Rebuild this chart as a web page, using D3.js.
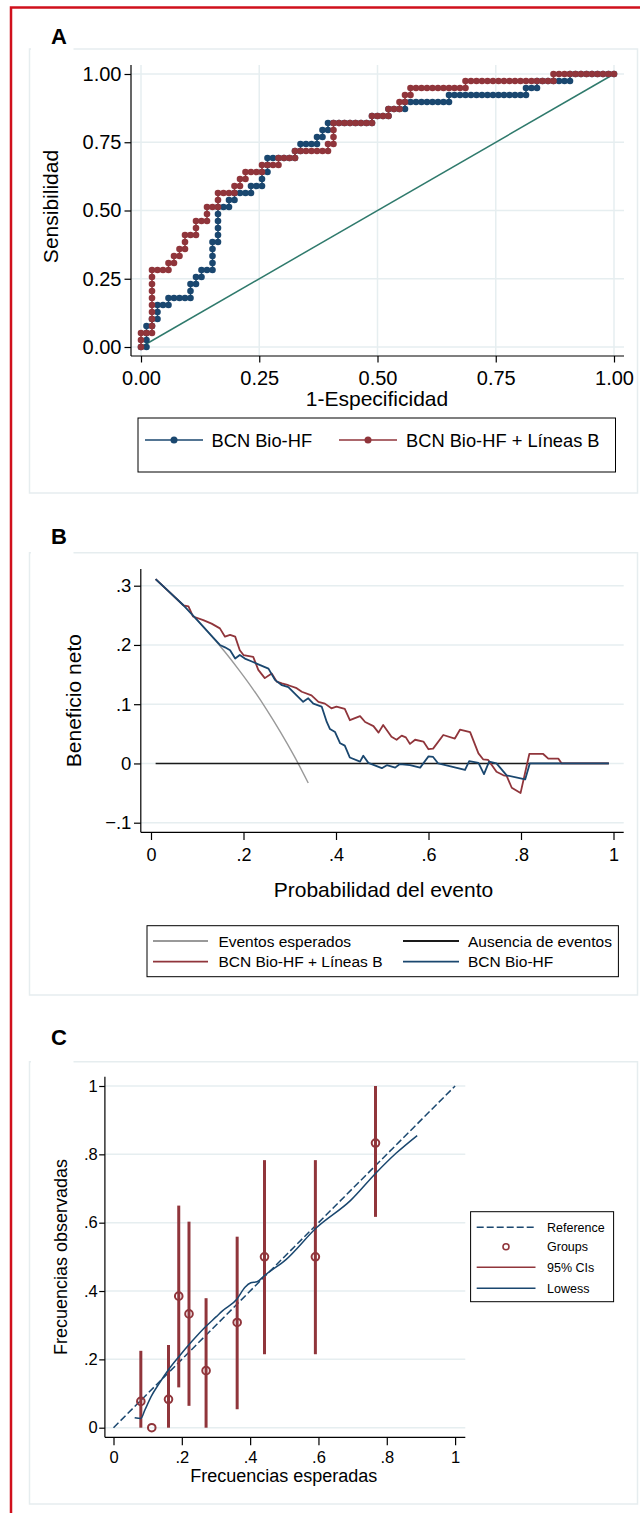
<!DOCTYPE html>
<html>
<head>
<meta charset="utf-8">
<script src="https://cdn.jsdelivr.net/npm/d3@7"></script>
<style>
  body { margin: 0; background: #fff; }
  svg { display: block; }
  text { font-family: "Liberation Sans", Arial, Helvetica, sans-serif; fill: #000; }
</style>
</head>
<body>
<svg id="fig" width="640" height="1515"></svg>
<script>
// ---------- Panel A: ROC curves ----------
// Each run: "u" = events (sensitivity step), "r" = non-events (1-specificity step)
const rocEvents = 39;
const rocNonEvents = 86;
const rocBlueRuns = ["r1","u3","r1","u1","r1","u2","r2","u1","r4","u2","r1","u1","r1","u1","r2","u4",
  "r1","u5","r2","u1","r1","u1","r3","u1","r2","u2","r1","u2","r5","u1","r1","u1","r3","u1","r1","u1",
  "r1","u1","r8","u1","r3","u1","r3","u1","r8","u1","r14","u1","r2","u1","r6","u1","r8"];
const rocRedRuns = ["u2","r2","u9","r3","u1","r1","u1","r1","u1","r1","u2","r2","u2","r2","u2","r2",
  "u2","r3","u1","r1","u1","r1","u1","r3","u1","r3","u1","r3","u1","r6","u1","r1","u3","r7","u1","r3",
  "u1","r2","u1","r1","u1","r1","u1","r10","u1","r16","u1","r11"];
const rocTicks = [0, 0.25, 0.5, 0.75, 1];
const rocLegend = ["BCN Bio-HF", "BCN Bio-HF + Líneas B"];

// ---------- Panel B: decision curves ----------
const nbAllX = [0.01,0.04,0.07,0.10,0.13,0.16,0.19,0.22,0.25,0.28,0.31,0.34];
const nbAllY = [0.311,0.289,0.267,0.242,0.216,0.188,0.158,0.126,0.091,0.053,0.012,-0.033];
const nbNoneX = [0.01, 0.99];
const nbNoneY = [0, 0];
const nbRedX = [0.01,0.04,0.07,0.081,0.091,0.113,0.131,0.149,0.16,0.171,0.182,0.192,0.2,0.221,0.232,
  0.246,0.261,0.272,0.283,0.297,0.315,0.326,0.347,0.362,0.376,0.39,0.401,0.419,0.43,0.452,0.463,0.481,
  0.492,0.502,0.52,0.531,0.542,0.551,0.56,0.571,0.589,0.6,0.61,0.632,0.657,0.668,0.69,0.708,0.718,0.729,
  0.747,0.762,0.769,0.78,0.799,0.818,0.848,0.859,0.881,0.888,0.99];
const nbRedY = [0.311,0.289,0.267,0.265,0.248,0.242,0.236,0.228,0.214,0.217,0.214,0.191,0.183,0.18,0.158,
  0.144,0.152,0.138,0.135,0.132,0.127,0.121,0.115,0.104,0.101,0.093,0.096,0.092,0.073,0.08,0.07,0.063,
  0.052,0.065,0.045,0.04,0.047,0.044,0.033,0.04,0.037,0.024,0.025,0.048,0.042,0.057,0.053,0.017,0.007,0.006,
  -0.014,-0.02,-0.021,-0.041,-0.05,0.016,0.016,0.008,0.008,0,0];
const nbBlueX = [0.01,0.04,0.07,0.10,0.13,0.149,0.16,0.171,0.182,0.192,0.203,0.218,0.236,0.254,0.268,0.283,
  0.297,0.311,0.329,0.34,0.351,0.369,0.38,0.387,0.398,0.409,0.419,0.43,0.452,0.459,0.47,0.499,0.51,0.528,
  0.538,0.56,0.582,0.6,0.61,0.621,0.679,0.688,0.708,0.72,0.731,0.747,0.769,0.809,0.819,0.99];
const nbBlueY = [0.311,0.289,0.267,0.242,0.216,0.2,0.196,0.191,0.177,0.183,0.177,0.172,0.166,0.16,0.141,0.132,
  0.129,0.118,0.104,0.11,0.101,0.096,0.07,0.058,0.053,0.034,0.03,0.01,0.003,0.013,0.001,-0.008,-0.003,-0.007,
  -0.001,-0.003,-0.007,0.012,0.011,0,-0.011,0.004,0.001,-0.018,0.003,0,-0.02,-0.027,0,0];
const nbXTicks = [0, 0.2, 0.4, 0.6, 0.8, 1];
const nbYTicks = [-0.1, 0, 0.1, 0.2, 0.3];
const nbLegend = ["Eventos esperados", "Ausencia de eventos", "BCN Bio-HF + Líneas B", "BCN Bio-HF"];

// ---------- Panel C: calibration ----------
const calExpected = [0.08, 0.112, 0.161, 0.191, 0.221, 0.271, 0.362, 0.442, 0.591, 0.767];
const calObserved = [0.077, 0, 0.083, 0.385, 0.333, 0.167, 0.308, 0.5, 0.5, 0.833];
const calLow  = [0, 0, 0, 0.118, 0.064, 0, 0.054, 0.215, 0.215, 0.617];
const calHigh = [0.225, 0, 0.242, 0.65, 0.603, 0.379, 0.559, 0.783, 0.783, 1.0];
const lowessX = [0.062,0.08,0.092,0.11,0.134,0.164,0.193,0.229,0.265,0.301,0.319,0.361,0.385,0.402,0.42,
  0.444,0.504,0.594,0.695,0.767,0.827,0.889];
const lowessY = [0.029,0.027,0.052,0.091,0.13,0.174,0.21,0.252,0.291,0.325,0.342,0.376,0.411,0.424,0.427,
  0.447,0.491,0.585,0.666,0.744,0.803,0.855];
const calTicks = [0, 0.2, 0.4, 0.6, 0.8, 1];
const calLegend = ["Reference", "Groups", "95% CIs", "Lowess"];

// ---------- styling ----------
const NAVY = "#1a476f", MAROON = "#90353b", GRID = "#e6eef0", FRAME = "#e6edef";
const fmtTick = v => (v === 0 ? "0" : v === 1 ? "1" : d3.format(".1f")(v).replace("0.", "."));

const svg = d3.select("#fig");

// outer red frame
svg.append("path")
  .attr("d", "M11,1513V7.5H640")
  .attr("fill", "none").attr("stroke", "#d0101c").attr("stroke-width", 2.5);

function panelFrame(top, bottom, letter, baseline) {
  svg.append("path")
    .attr("d", `M73.5,${top}H637.5V${bottom}H29.5V${top}H31`)
    .attr("fill", "none").attr("stroke", FRAME).attr("stroke-width", 1.5);
  svg.append("text").attr("x", 51).attr("y", baseline)
    .attr("font-size", 22).attr("font-weight", "bold").text(letter);
}

function styleAxis(g, fs) {
  g.select(".domain").remove();
  g.selectAll(".tick line").attr("stroke", "#000").attr("stroke-width", 1.2);
  g.selectAll(".tick text").attr("font-size", fs).attr("fill", "#000")
    .attr("font-family", "Liberation Sans, Arial, sans-serif");
}

// ================= Panel A =================
panelFrame(49, 493, "A", 44);
{
  const x = d3.scaleLinear().domain([0, 1]).range([141, 614]);
  const y = d3.scaleLinear().domain([0, 1]).range([347, 74]);
  const L = 131, R = 624, T = 65, B = 356;
  const g = svg.append("g");

  g.selectAll(".hg").data(rocTicks).join("line")
    .attr("x1", L).attr("x2", R).attr("y1", d => y(d)).attr("y2", d => y(d))
    .attr("stroke", GRID).attr("stroke-width", 1.5);
  g.selectAll(".vg").data(rocTicks).join("line").attr("class", "vg")
    .attr("y1", T).attr("y2", B).attr("x1", d => x(d)).attr("x2", d => x(d))
    .attr("stroke", GRID).attr("stroke-width", 1.5);

  // chance line
  g.append("line").attr("x1", x(0)).attr("y1", y(0)).attr("x2", x(1)).attr("y2", y(1))
    .attr("stroke", "#2f7a6c").attr("stroke-width", 1.5);

  function rocPoints(runs) {
    let fp = 0, tp = 0;
    const pts = [[0, 0]];
    runs.forEach(tok => {
      const n = +tok.slice(1);
      for (let k = 0; k < n; k++) {
        if (tok[0] === "u") tp++; else fp++;
        pts.push([fp / rocNonEvents, tp / rocEvents]);
      }
    });
    return pts;
  }
  const line = d3.line().x(d => x(d[0])).y(d => y(d[1]));
  [[rocBlueRuns, NAVY], [rocRedRuns, MAROON]].forEach(([runs, col]) => {
    const pts = rocPoints(runs);
    g.append("path").attr("d", line(pts)).attr("fill", "none")
      .attr("stroke", col).attr("stroke-width", 1.5);
    g.append("g").selectAll("circle").data(pts).join("circle")
      .attr("cx", d => x(d[0])).attr("cy", d => y(d[1])).attr("r", 3.3).attr("fill", col);
  });

  // axis lines
  g.append("line").attr("x1", L).attr("x2", L).attr("y1", T).attr("y2", B).attr("stroke", "#000").attr("stroke-width", 1.2);
  g.append("line").attr("x1", L).attr("x2", R).attr("y1", B).attr("y2", B).attr("stroke", "#000").attr("stroke-width", 1.2);

  const ax = g.append("g").attr("transform", `translate(0,${B})`)
    .call(d3.axisBottom(x).tickValues(rocTicks).tickFormat(d3.format(".2f")).tickSize(6.5).tickPadding(8));
  styleAxis(ax, 20);
  const ay = g.append("g").attr("transform", `translate(${L},0)`)
    .call(d3.axisLeft(y).tickValues(rocTicks).tickFormat(d3.format(".2f")).tickSize(6.5).tickPadding(3));
  styleAxis(ay, 20);

  g.append("text").attr("x", 377).attr("y", 406).attr("text-anchor", "middle")
    .attr("font-size", 21).text("1-Especificidad");
  g.append("text").attr("transform", `translate(58,${(T + B) / 2 - 4}) rotate(-90)`)
    .attr("text-anchor", "middle").attr("font-size", 21).text("Sensibilidad");

  // legend
  const lg = g.append("g");
  lg.append("rect").attr("x", 138).attr("y", 418).attr("width", 477.5).attr("height", 54)
    .attr("fill", "#fff").attr("stroke", "#000").attr("stroke-width", 1);
  [[145, 203, 211.5, NAVY], [339, 397, 406, MAROON]].forEach(([x1, x2, tx, col], i) => {
    lg.append("line").attr("x1", x1).attr("x2", x2).attr("y1", 440).attr("y2", 440)
      .attr("stroke", col).attr("stroke-width", 1.5);
    lg.append("circle").attr("cx", (x1 + x2) / 2).attr("cy", 440).attr("r", 3.5).attr("fill", col);
    lg.append("text").attr("x", tx).attr("y", 446.5).attr("font-size", 18.3).text(rocLegend[i]);
  });
}

// ================= Panel B =================
panelFrame(552.7, 995, "B", 544);
{
  const x = d3.scaleLinear().domain([0, 1]).range([151, 613.5]);
  const y = d3.scaleLinear().domain([-0.1, 0.3]).range([822.7, 585.7]);
  const L = 140.8, R = 623.7, T = 569, B = 832.3;
  const g = svg.append("g");

  g.selectAll(".hg").data(nbYTicks).join("line")
    .attr("x1", L).attr("x2", R).attr("y1", d => y(d)).attr("y2", d => y(d))
    .attr("stroke", GRID).attr("stroke-width", 1.5);

  const line = d3.line().x(d => x(d[0])).y(d => y(d[1]));
  const series = [
    [nbAllX, nbAllY, "#999999", 1.4, d3.curveMonotoneX],
    [nbNoneX, nbNoneY, "#1a1a1a", 1.6, d3.curveLinear],
    [nbRedX, nbRedY, MAROON, 1.8, d3.curveLinear],
    [nbBlueX, nbBlueY, NAVY, 1.8, d3.curveLinear]
  ];
  series.forEach(([xs, ys, col, w, curve]) => {
    g.append("path").attr("d", line.curve(curve)(xs.map((v, i) => [v, ys[i]])))
      .attr("fill", "none").attr("stroke", col).attr("stroke-width", w).attr("stroke-linejoin", "round");
  });

  g.append("line").attr("x1", L).attr("x2", L).attr("y1", T).attr("y2", B).attr("stroke", "#000").attr("stroke-width", 1.2);
  g.append("line").attr("x1", L).attr("x2", R).attr("y1", B).attr("y2", B).attr("stroke", "#000").attr("stroke-width", 1.2);

  const ax = g.append("g").attr("transform", `translate(0,${B})`)
    .call(d3.axisBottom(x).tickValues(nbXTicks).tickFormat(fmtTick).tickSize(7.7).tickPadding(8.3));
  styleAxis(ax, 18);
  const ay = g.append("g").attr("transform", `translate(${L},0)`)
    .call(d3.axisLeft(y).tickValues(nbYTicks).tickFormat(fmtTick).tickSize(6.8).tickPadding(2.6));
  styleAxis(ay, 18.5);

  g.append("text").attr("x", 383.5).attr("y", 896.7).attr("text-anchor", "middle")
    .attr("font-size", 21).text("Probabilidad del evento");
  g.append("text").attr("transform", `translate(81,${(T + B) / 2}) rotate(-90)`)
    .attr("text-anchor", "middle").attr("font-size", 21).text("Beneficio neto");

  const lg = g.append("g");
  lg.append("rect").attr("x", 147).attr("y", 925.7).attr("width", 471.4).attr("height", 51)
    .attr("fill", "#fff").attr("stroke", "#000").attr("stroke-width", 1);
  const cols = ["#999999", "#1a1a1a", MAROON, NAVY];
  const pos = [[153, 208, 218.4, 941], [403, 459, 468, 941], [153, 208, 218.4, 961.7], [403, 459, 468, 961.7]];
  pos.forEach(([x1, x2, tx, ly], i) => {
    lg.append("line").attr("x1", x1).attr("x2", x2).attr("y1", ly).attr("y2", ly)
      .attr("stroke", cols[i]).attr("stroke-width", 1.8);
    lg.append("text").attr("x", tx).attr("y", ly + 5.5).attr("font-size", 15.5).text(nbLegend[i]);
  });
}

// ================= Panel C =================
panelFrame(1061.7, 1504, "C", 1045);
{
  const x = d3.scaleLinear().domain([0, 1]).range([113.5, 455.1]);
  const y = d3.scaleLinear().domain([0, 1]).range([1427.7, 1086]);
  const L = 104.9, R = 465.3, T = 1076.7, B = 1437.3;
  const g = svg.append("g");

  g.selectAll(".hg").data(calTicks).join("line")
    .attr("x1", L).attr("x2", R).attr("y1", d => y(d)).attr("y2", d => y(d))
    .attr("stroke", GRID).attr("stroke-width", 1.5);

  // reference diagonal
  g.append("line").attr("x1", x(0)).attr("y1", y(0)).attr("x2", x(1)).attr("y2", y(1))
    .attr("stroke", NAVY).attr("stroke-width", 1.5).attr("stroke-dasharray", "7,3");

  // group markers
  const groups = calExpected.map((e, i) => ({ e, o: calObserved[i], lo: calLow[i], hi: calHigh[i] }));
  g.append("g").selectAll("circle").data(groups).join("circle")
    .attr("cx", d => x(d.e)).attr("cy", d => y(d.o)).attr("r", 3.8)
    .attr("fill", "none").attr("stroke", MAROON).attr("stroke-width", 2);
  // confidence intervals
  g.append("g").selectAll("line").data(groups.filter(d => d.hi > d.lo)).join("line")
    .attr("x1", d => x(d.e)).attr("x2", d => x(d.e)).attr("y1", d => y(d.lo)).attr("y2", d => y(d.hi))
    .attr("stroke", MAROON).attr("stroke-width", 3);

  // lowess smoother
  g.append("path")
    .attr("d", d3.line().x(d => x(d[0])).y(d => y(d[1])).curve(d3.curveMonotoneX)(lowessX.map((v, i) => [v, lowessY[i]])))
    .attr("fill", "none").attr("stroke", NAVY).attr("stroke-width", 1.5);

  g.append("line").attr("x1", L).attr("x2", L).attr("y1", T).attr("y2", B).attr("stroke", "#000").attr("stroke-width", 1.2);
  g.append("line").attr("x1", L).attr("x2", R).attr("y1", B).attr("y2", B).attr("stroke", "#000").attr("stroke-width", 1.2);

  const ax = g.append("g").attr("transform", `translate(0,${B})`)
    .call(d3.axisBottom(x).tickValues(calTicks).tickFormat(fmtTick).tickSize(8).tickPadding(6));
  styleAxis(ax, 16.5);
  const ay = g.append("g").attr("transform", `translate(${L},0)`)
    .call(d3.axisLeft(y).tickValues(calTicks).tickFormat(fmtTick).tickSize(5.7).tickPadding(1.5));
  styleAxis(ay, 16.5);

  g.append("text").attr("x", 283.7).attr("y", 1481.7).attr("text-anchor", "middle")
    .attr("font-size", 18).text("Frecuencias esperadas");
  g.append("text").attr("transform", `translate(67,${(T + B) / 2}) rotate(-90)`)
    .attr("text-anchor", "middle").attr("font-size", 18).text("Frecuencias observadas");

  const lg = g.append("g");
  lg.append("rect").attr("x", 470.6).attr("y", 1211.7).attr("width", 143).attr("height", 90)
    .attr("fill", "#fff").attr("stroke", "#000").attr("stroke-width", 1);
  const rows = [1227.3, 1246.7, 1267.3, 1288.3];
  lg.append("line").attr("x1", 476.7).attr("x2", 535.5).attr("y1", rows[0]).attr("y2", rows[0])
    .attr("stroke", NAVY).attr("stroke-width", 1.5).attr("stroke-dasharray", "7,3");
  lg.append("circle").attr("cx", 506).attr("cy", rows[1]).attr("r", 3)
    .attr("fill", "none").attr("stroke", MAROON).attr("stroke-width", 1.6);
  lg.append("line").attr("x1", 476.7).attr("x2", 535.5).attr("y1", rows[2]).attr("y2", rows[2])
    .attr("stroke", MAROON).attr("stroke-width", 1.5);
  lg.append("line").attr("x1", 476.7).attr("x2", 535.5).attr("y1", rows[3]).attr("y2", rows[3])
    .attr("stroke", NAVY).attr("stroke-width", 1.5);
  rows.forEach((ry, i) => {
    lg.append("text").attr("x", 547).attr("y", ry + 4.6).attr("font-size", 12.5).text(calLegend[i]);
  });
}
</script>
</body>
</html>
